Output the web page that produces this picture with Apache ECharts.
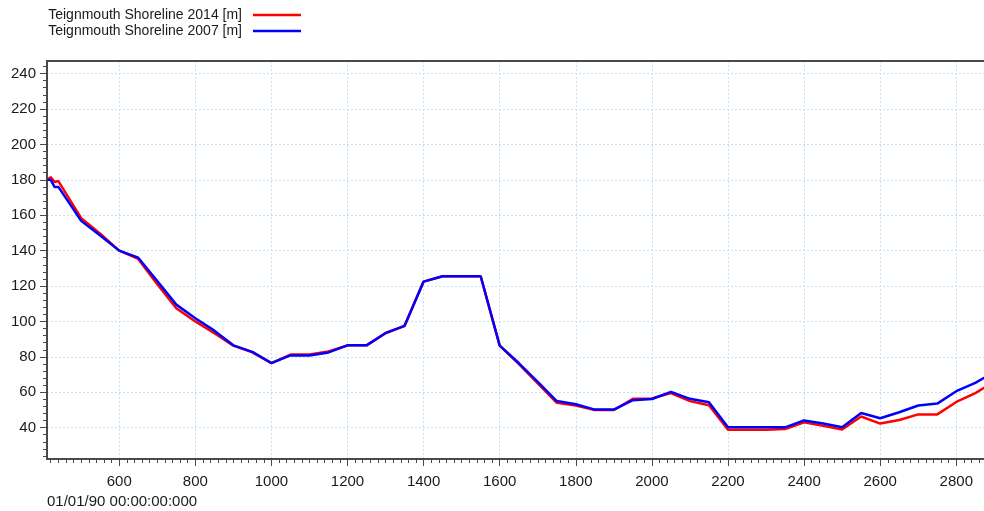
<!DOCTYPE html>
<html><head><meta charset="utf-8">
<script src="https://cdn.jsdelivr.net/npm/echarts@6/dist/echarts.min.js"></script>
<style>html,body{margin:0;padding:0;background:#fff}#c{width:984px;height:511px}</style>
</head><body><div id="c"></div>
<script>
const seriesNames = ['Teignmouth Shoreline 2014 [m]', 'Teignmouth Shoreline 2007 [m]'];
const seriesColors = ['#ff0000', '#0000ff'];
const chainage = [411, 420, 430, 440, 500, 550, 600, 650, 700, 750, 800, 850, 900, 950, 1000, 1050, 1100, 1150, 1200, 1250, 1300, 1350, 1400, 1450, 1500, 1550, 1600, 1650, 1700, 1750, 1800, 1850, 1900, 1950, 2000, 2050, 2100, 2150, 2200, 2250, 2300, 2350, 2400, 2450, 2500, 2550, 2600, 2650, 2700, 2750, 2800, 2850, 2900];
const shoreline2014 = [180, 181.5, 178.8, 179.3, 158.3, 149.5, 140, 135.3, 121, 107.5, 100, 93.3, 86.3, 82.5, 76.5, 81.3, 81.3, 83, 86.5, 86.5, 93.3, 97.5, 122.5, 125.5, 125.5, 125.5, 86.3, 76, 65, 54, 52.5, 50, 50, 56.3, 56.5, 59.5, 55, 52.7, 38.8, 38.8, 38.8, 39.2, 43, 41, 39, 46.3, 42.3, 44.3, 47.5, 47.5, 54.5, 59.5, 66];
const shoreline2007 = [180, 180, 176, 176, 156.8, 148.5, 140, 136, 122.8, 109.5, 101.8, 94.8, 86.5, 82.8, 76.5, 80.8, 80.8, 82.5, 86.5, 86.5, 93.5, 97.5, 122.5, 125.5, 125.5, 125.5, 86.3, 76.5, 65.8, 55, 53.2, 50.2, 50.2, 55.5, 56.2, 60.2, 56.3, 54.3, 40.2, 40.2, 40.2, 40.2, 44.1, 42.3, 40.2, 48.3, 45.3, 48.7, 52.5, 53.6, 60.6, 65.3, 71.5];
const xTickLabels = [600, 800, 1000, 1200, 1400, 1600, 1800, 2000, 2200, 2400, 2600, 2800];
const yTickLabels = [40, 60, 80, 100, 120, 140, 160, 180, 200, 220, 240];
const dateLabel = '01/01/90 00:00:00:000';

const X_MIN = 410.2, X_MAX = 2872.8, Y_MIN = 22.3, Y_MAX = 247.1;
const xMinor = [], yMinor = [];
for (let v = 420; v < X_MAX; v += 20) xMinor.push(v);
for (let v = 24; v < Y_MAX; v += 4) yMinor.push(v);

const FONT = '"Liberation Sans", Arial, sans-serif';
const axisCol = '#484848';
const textCol = '#1a1a1a';
const gridLine = { show: true, lineStyle: { color: '#c6e0fa', width: 1, type: [2, 2] } };
const plainNum = v => String(Math.round(v));

const chart = echarts.init(document.getElementById('c'), null, { renderer: 'canvas' });
chart.setOption({
  animation: false,
  backgroundColor: '#ffffff',
  grid: { left: 47, top: 61, right: 0, bottom: 52, containLabel: false },
  legend: {
    data: seriesNames.map(n => ({ name: n, icon: 'path://M0,0L48,0L48,2.6L0,2.6Z' })),
    orient: 'vertical',
    align: 'right',
    right: 683,
    top: 8,
    padding: 0,
    itemWidth: 48,
    itemHeight: 14,
    itemGap: 2,
    textStyle: { fontFamily: FONT, fontSize: 14, lineHeight: 14, color: textCol, padding: [0, 6, 0, 0] }
  },
  xAxis: [
    {
      type: 'value', position: 'bottom', min: X_MIN, max: X_MAX,
      axisLine: { show: true, onZero: false, lineStyle: { color: axisCol, width: 2 } },
      axisTick: { show: true, length: 4, customValues: xMinor, lineStyle: { color: axisCol } },
      axisLabel: { show: false }, splitLine: { show: false }
    },
    {
      type: 'value', position: 'bottom', min: X_MIN, max: X_MAX,
      axisLine: { show: false, onZero: false },
      axisTick: { show: true, length: 7, customValues: xTickLabels, lineStyle: { color: axisCol } },
      axisLabel: { show: true, customValues: xTickLabels, formatter: plainNum, margin: 15, fontFamily: FONT, fontSize: 15, color: textCol },
      splitLine: gridLine
    },
    {
      type: 'value', position: 'top', min: X_MIN, max: X_MAX,
      axisLine: { show: true, onZero: false, lineStyle: { color: axisCol, width: 2 } },
      axisTick: { show: false }, axisLabel: { show: false }, splitLine: { show: false }
    }
  ],
  yAxis: [
    {
      type: 'value', position: 'left', min: Y_MIN, max: Y_MAX,
      axisLine: { show: true, onZero: false, lineStyle: { color: axisCol, width: 2 } },
      axisTick: { show: true, length: 4, customValues: yMinor, lineStyle: { color: axisCol } },
      axisLabel: { show: false }, splitLine: { show: false }
    },
    {
      type: 'value', position: 'left', min: Y_MIN, max: Y_MAX,
      axisLine: { show: false, onZero: false },
      axisTick: { show: true, length: 7, customValues: yTickLabels, lineStyle: { color: axisCol } },
      axisLabel: { show: true, customValues: yTickLabels, formatter: plainNum, margin: 11, fontFamily: FONT, fontSize: 15, color: textCol },
      splitLine: gridLine
    }
  ],
  graphic: [
    { type: 'text', left: 47, top: 494, style: { text: dateLabel, font: '15px "Liberation Sans", Arial, sans-serif', fill: textCol } }
  ],
  series: [
    {
      name: seriesNames[0], type: 'line', xAxisIndex: 0, yAxisIndex: 0, symbol: 'none',
      color: seriesColors[0], lineStyle: { color: seriesColors[0], width: 2.5 },
      data: chainage.map((c, i) => [c, shoreline2014[i]])
    },
    {
      name: seriesNames[1], type: 'line', xAxisIndex: 0, yAxisIndex: 0, symbol: 'none',
      color: seriesColors[1], lineStyle: { color: seriesColors[1], width: 2.5 },
      data: chainage.map((c, i) => [c, shoreline2007[i]])
    }
  ]
});
</script></body></html>
